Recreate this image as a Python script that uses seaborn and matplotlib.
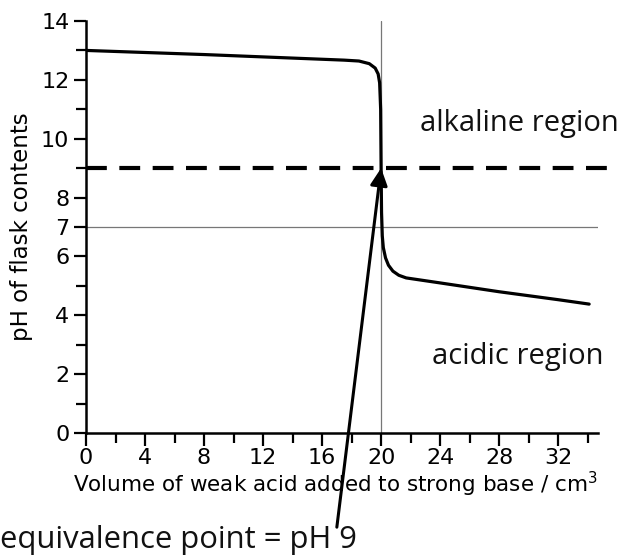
import matplotlib
matplotlib.use("Agg")
import matplotlib.pyplot as plt
import seaborn as sns
import pandas as pd

# ---- data ----
volume = [0, 4, 8, 12, 16, 17.5, 18.5, 19.2, 19.6, 19.8, 19.9, 19.97, 20.0, 20.03, 20.08,
          20.15, 20.3, 20.5, 20.8, 21.2, 21.7, 24, 28, 32, 34.1]
ph = [13.0, 12.93, 12.86, 12.78, 12.7, 12.67, 12.64, 12.55, 12.4, 12.2, 11.9, 11.0, 9.0, 7.5, 6.7,
      6.3, 5.95, 5.7, 5.5, 5.36, 5.27, 5.1, 4.8, 4.53, 4.38]

x_major = [0, 4, 8, 12, 16, 20, 24, 28, 32]
x_minor = [2, 6, 10, 14, 18, 22, 26, 30, 34]
y_major = [0, 2, 4, 6, 7, 8, 10, 12, 14]
y_minor = [1, 3, 5, 9, 11, 13]

equivalence_volume = 20
equivalence_ph = 9
neutral_ph = 7
arrow_tail = (17.0, -3.2)

xlabel = "Volume of weak acid added to strong base / cm$^3$"
ylabel = "pH of flask contents"
label_alkaline = "alkaline region"
label_acidic = "acidic region"
label_equiv = "equivalence point = pH 9"

df = pd.DataFrame({"volume": volume, "ph": ph})

sns.set_style("ticks")
plt.rcParams["font.family"] = ["DejaVu Sans"]

W, H = 636, 558
fig = plt.figure(figsize=(W / 100, H / 100), dpi=100)
ax = fig.add_axes([86 / W, 1 - 433 / H, (598 - 86) / W, (433 - 21) / H])

# reference lines
ax.plot([equivalence_volume, equivalence_volume], [0, 14], color="#777777", lw=0.9, zorder=1)
ax.plot([0, 34.75], [neutral_ph, neutral_ph], color="#777777", lw=0.9, zorder=1)
ax.plot([0, 35.8], [equivalence_ph, equivalence_ph], color="black", lw=3.0,
        dashes=(5, 3), clip_on=False, zorder=2)

sns.lineplot(data=df, x="volume", y="ph", ax=ax, color="black", lw=2.3, sort=False,
             estimator=None, zorder=3)

ax.set_xlim(0, 34.7)
ax.set_ylim(0, 14)
ax.set_xticks(x_major)
ax.set_xticks(x_minor, minor=True)
ax.set_yticks(y_major)
ax.set_yticks(y_minor, minor=True)
ax.tick_params(axis="both", which="major", length=9, width=1.6, labelsize=16, color="black",
               labelcolor="black")
ax.tick_params(axis="both", which="minor", length=7, width=1.6, color="black")
ax.tick_params(axis="x", which="major", pad=2)
ax.tick_params(axis="y", which="major", pad=3)
for s in ["top", "right"]:
    ax.spines[s].set_visible(False)
for s in ["left", "bottom"]:
    ax.spines[s].set_linewidth(1.8)
    ax.spines[s].set_color("black")

ax.set_xlabel(xlabel, fontsize=15.5, color="black", labelpad=1)
ax.xaxis.label.set_x(0.487)
ax.set_ylabel(ylabel, fontsize=16.5, color="black", labelpad=6)

# arrow
ax.annotate("", xy=(equivalence_volume, equivalence_ph), xytext=arrow_tail,
            arrowprops=dict(arrowstyle="-|>", lw=2.2, color="black", mutation_scale=26,
                            shrinkA=0, shrinkB=0),
            annotation_clip=False)

fig.text(420 / W, 1 - 131 / H, label_alkaline, fontsize=21, family=["Open Sans"],
         va="baseline", ha="left", color="#111111")
fig.text(432 / W, 1 - 364 / H, label_acidic, fontsize=21, family=["Open Sans"],
         va="baseline", ha="left", color="#111111")
fig.text(0 / W, 1 - 548 / H, label_equiv, fontsize=22.3, family=["Open Sans"],
         va="baseline", ha="left", color="#111111")

fig.savefig("out.png", dpi=100)
